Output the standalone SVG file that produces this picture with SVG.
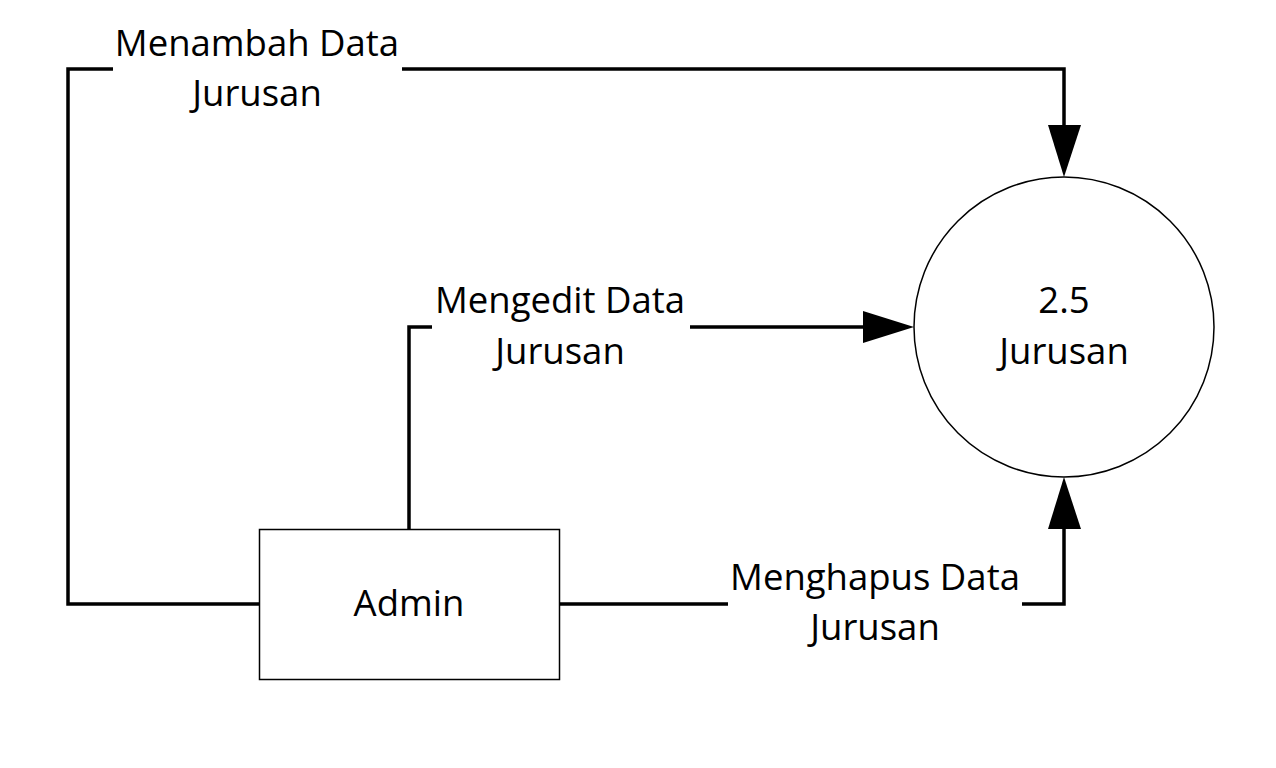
<svg xmlns="http://www.w3.org/2000/svg" width="1276" height="768" viewBox="0 0 1276 768">
<defs>
<style>
.t{font-family:"Open Sans","Noto Sans","Liberation Sans",sans-serif;font-size:36.5px;fill:#000;text-anchor:middle}
.ln{fill:none;stroke:#000;stroke-width:3.5}
.ah{fill:#000;stroke:none}
.bg{fill:#fff;stroke:none}
</style>
</defs>
<rect width="1276" height="768" fill="#fff"/>
<g id="connectors">
<path class="ln" d="M260,604 H68 V69 H1064 V126"/>
<polygon class="ah" points="1048,125 1081,125 1064,177"/>
<path class="ln" d="M409,529 V327 H864"/>
<polygon class="ah" points="863,311 863,343 914,327"/>
<path class="ln" d="M559,604 H1064 V528"/>
<polygon class="ah" points="1048,529 1081,529 1064,477"/>
<rect class="bg" x="113" y="30" width="289" height="84"/>
<text class="t" x="257" y="56">Menambah Data</text>
<text class="t" x="257" y="106">Jurusan</text>
<rect class="bg" x="432" y="283" width="258" height="88"/>
<text class="t" x="560" y="313">Mengedit Data</text>
<text class="t" x="560" y="364">Jurusan</text>
<rect class="bg" x="728" y="560" width="294" height="88"/>
<text class="t" x="875" y="590">Menghapus Data</text>
<text class="t" x="875" y="640">Jurusan</text>
</g>
<g id="proses-2-5">
<circle cx="1064" cy="327" r="150" fill="#fff" stroke="#000" stroke-width="1.5"/>
<text class="t" x="1064" y="313">2.5</text>
<text class="t" x="1064" y="364">Jurusan</text>
</g>
<g id="admin">
<rect x="259.5" y="529.5" width="300" height="150" fill="#fff" stroke="#000" stroke-width="1.5"/>
<text class="t" x="409" y="616">Admin</text>
</g>
</svg>
